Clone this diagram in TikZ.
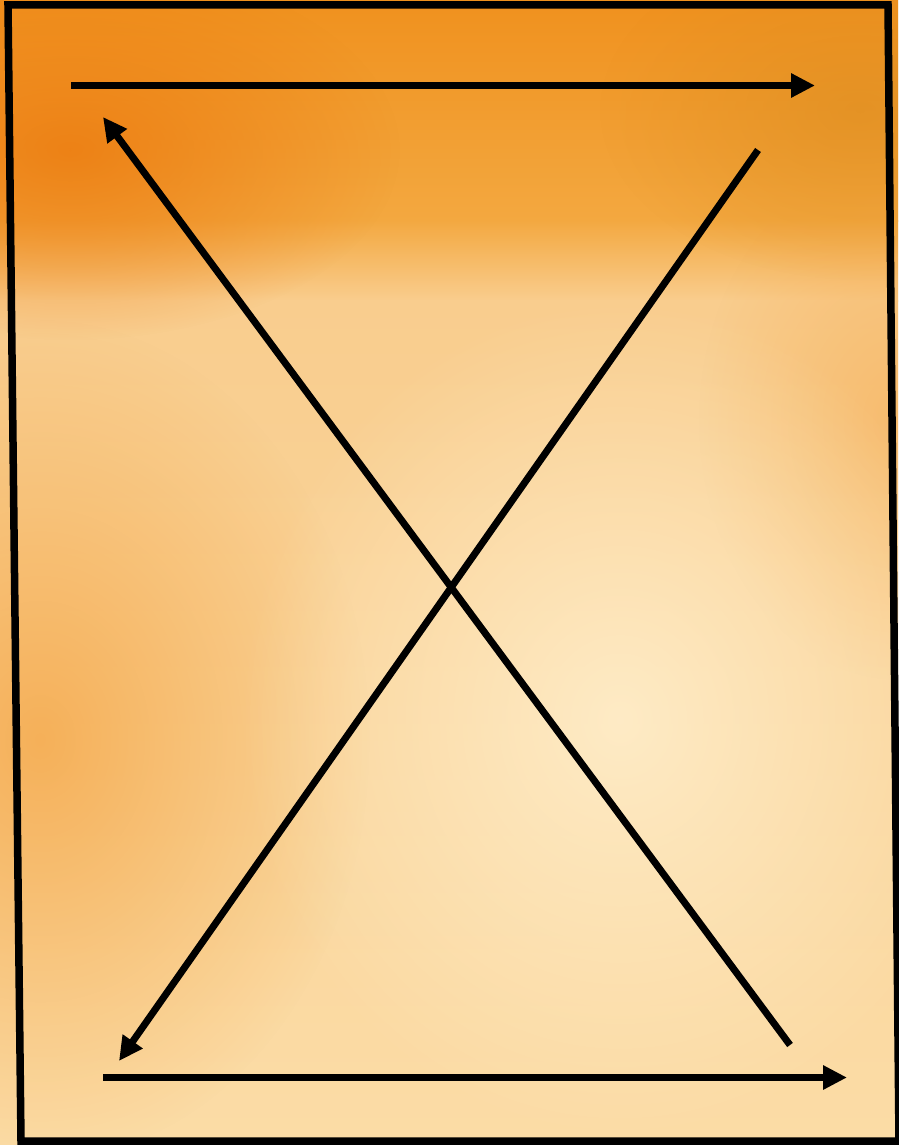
\documentclass[tikz,border=0pt]{standalone}
\usetikzlibrary{arrows.meta,fadings}
\definecolor{bgA}{HTML}{F0911E}
\definecolor{bgB}{HTML}{F3A840}
\definecolor{bgC}{HTML}{F9CD8E}
\definecolor{bgD}{HTML}{FBDCA6}
\definecolor{spotDark}{HTML}{EC7A0E}
\definecolor{spotRight}{HTML}{DC8C1E}
\definecolor{spotLeft}{HTML}{F4A443}
\definecolor{spotLight}{HTML}{FFEFCD}
\tikzfading[name=fadeRound, inner color=transparent!0, outer color=transparent!100]
\tikzset{
  frameline/.style={line width=7.5pt, line join=miter, black},
  arr/.style={line width=7pt, black, -{Triangle[length=24pt,width=23pt]}}
}
\begin{document}
\begin{tikzpicture}[x=1pt,y=-1pt]
\useasboundingbox (0,0) rectangle (898,1145);
\begin{scope}
  \clip (0,0) rectangle (898,1145);
  % background bands
  \shade[top color=bgA, bottom color=bgB] (0,-1) rectangle (898,221);
  \shade[top color=bgB, bottom color=bgC] (0,220) rectangle (898,301);
  \shade[top color=bgC, bottom color=bgD] (0,300) rectangle (898,1146);
  % overlays
  \fill[spotLeft, path fading=fadeRound, fill opacity=0.75] (40,740) ellipse [x radius=330, y radius=420];
  \fill[spotDark, path fading=fadeRound, fill opacity=0.8] (70,150) ellipse [x radius=330, y radius=190];
  \fill[spotRight, path fading=fadeRound, fill opacity=0.6] (860,110) ellipse [x radius=260, y radius=170];
  \fill[spotLeft, path fading=fadeRound, fill opacity=0.45] (898,420) ellipse [x radius=200, y radius=260];
  \fill[spotLight, path fading=fadeRound, fill opacity=0.85] (620,720) ellipse [x radius=380, y radius=420];
\end{scope}
% frame
\coordinate (tl) at (8,5);
\coordinate (tr) at (888,5);
\coordinate (br) at (899,1141);
\coordinate (bl) at (21,1141);
\draw[frameline] (tl) -- (tr) -- (br) -- (bl) -- cycle;
% arrows
\coordinate (topS) at (71,85.5);
\coordinate (topE) at (815,85.5);
\coordinate (botS) at (103,1077.5);
\coordinate (botE) at (847,1077.5);
\coordinate (nwS) at (790,1045);
\coordinate (nwE) at (103,117);
\coordinate (swS) at (758,150);
\coordinate (swE) at (119,1061);
\draw[arr] (topS) -- (topE);
\draw[arr] (botS) -- (botE);
\draw[arr] (nwS) -- (nwE);
\draw[arr] (swS) -- (swE);
\end{tikzpicture}
\end{document}
